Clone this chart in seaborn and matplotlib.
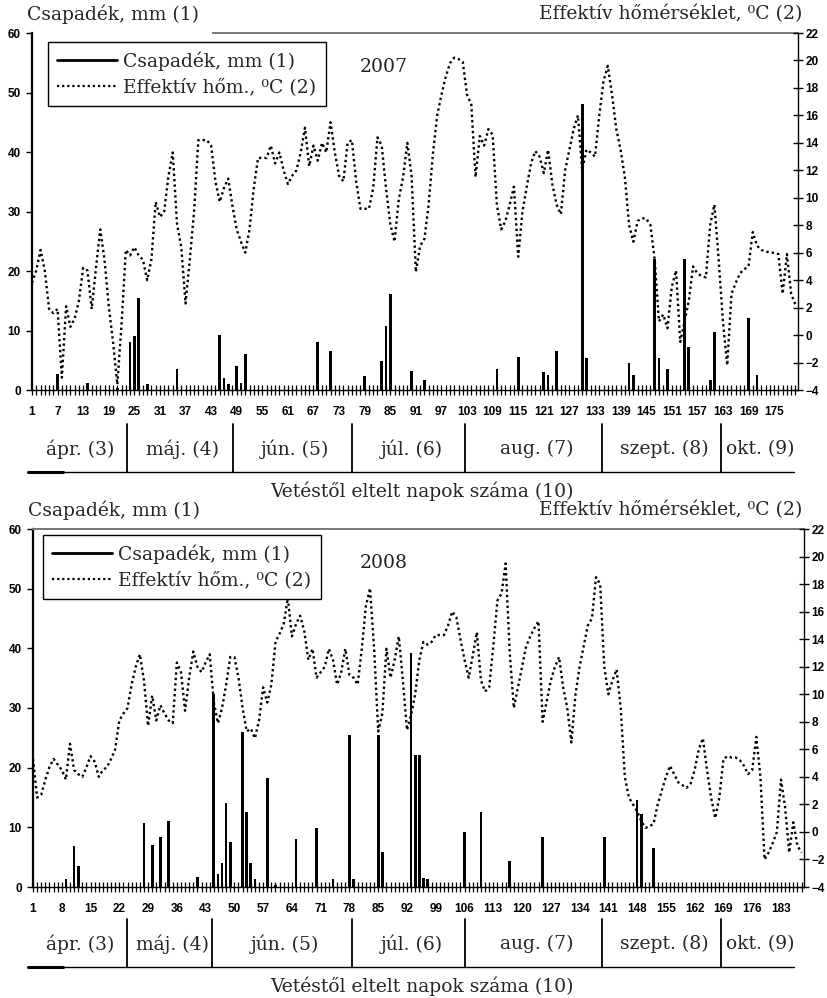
import matplotlib
matplotlib.use("Agg")
import matplotlib.pyplot as plt
import seaborn as sns
from matplotlib.lines import Line2D

sns.set_theme(style="white")
plt.rcParams['font.family'] = ['DejaVu Serif', 'DejaVu Sans']

# 2007 - effektiv homerseklet naponta (C)
temp_2007 = [
    3.8, 4.7, 6.2, 4.7, 1.9, 1.6, 1.9, -3.1, 2.1, 0.6,
    1.2, 2.5, 4.9, 4.7, 1.9, 4.9, 7.7, 5.5, 2.1, -0.5,
    -3.6, 0.8, 6.2, 5.8, 6.4, 5.8, 5.5, 4.0, 5.5, 9.7,
    8.6, 9.0, 11.6, 13.3, 8.1, 6.4, 2.3, 5.5, 9.0, 14.2,
    14.2, 14.2, 13.8, 11.2, 9.7, 10.7, 11.4, 9.4, 7.7, 6.8,
    6.0, 7.7, 10.7, 12.9, 12.9, 12.9, 13.8, 12.5, 13.3, 12.0,
    11.0, 11.6, 12.0, 13.3, 15.1, 12.3, 13.8, 12.7, 14.0, 13.3,
    15.5, 13.3, 11.6, 11.2, 14.0, 14.2, 11.2, 9.2, 9.2, 9.2,
    10.7, 14.4, 13.8, 10.7, 8.1, 6.8, 9.9, 11.5, 14.0, 11.6,
    4.6, 6.5, 7.0, 9.5, 13.2, 16.0, 17.5, 18.8, 19.8, 20.2,
    20.1, 19.9, 17.5, 16.8, 11.5, 14.5, 13.8, 15.0, 14.6, 9.5,
    7.7, 8.3, 9.5, 10.8, 5.7, 9.0, 10.8, 12.5, 13.4, 13.0,
    11.8, 13.5, 11.0, 9.5, 8.8, 12.0, 13.5, 15.0, 16.0, 12.0,
    13.5, 13.3, 13.0, 16.0, 18.5, 19.6, 17.5, 15.0, 13.5, 11.5,
    8.0, 6.8, 8.3, 8.5, 8.5, 8.0, 5.5, 1.0, 1.5, 0.5,
    3.5, 4.7, -0.5, 1.0, 2.5, 5.0, 4.5, 4.3, 4.2, 8.0,
    9.5, 5.5, 1.0, -2.2, 3.0, 3.8, 4.5, 4.8, 5.0, 7.5,
    6.5, 6.2, 6.1, 6.0, 6.0, 5.9, 3.0, 5.9, 3.0, 2.2,
]
rain_days_2007 = [7, 14, 21, 24, 25, 26, 28, 35, 45, 46, 47, 49, 50, 51, 68, 71,
                  79, 83, 84, 85, 90, 93, 110, 115, 121, 122, 124, 130, 131, 141,
                  142, 147, 148, 150, 154, 155, 160, 161, 169, 171]
rain_mm_2007 = [2.7, 1.1, 0.4, 8.0, 9.0, 15.5, 1.0, 3.5, 9.2, 2.0, 1.0, 4.1, 1.2, 6.1, 8.0, 6.5,
                2.4, 4.8, 10.8, 16.2, 3.2, 1.7, 3.6, 5.6, 3.0, 2.6, 6.5, 48.0, 5.3, 4.5,
                2.6, 22.1, 5.3, 3.5, 22.1, 7.3, 1.7, 9.7, 12.1, 2.6]

# 2008
temp_2008 = [
    5.3, 2.5, 2.7, 3.8, 4.7, 5.3, 4.9, 4.5, 3.8, 6.4,
    4.5, 4.2, 4.0, 4.7, 5.5, 5.1, 4.0, 4.5, 4.7, 5.3,
    6.0, 8.1, 8.6, 9.0, 10.7, 12.0, 12.9, 11.0, 7.7, 9.9,
    8.1, 9.2, 8.6, 8.1, 7.9, 12.3, 11.6, 8.8, 11.2, 13.1,
    12.0, 11.6, 12.3, 12.9, 9.4, 7.9, 9.0, 10.7, 12.7, 12.7,
    11.2, 9.0, 7.3, 7.5, 6.8, 8.1, 10.5, 9.4, 10.7, 13.8,
    14.4, 15.1, 17.0, 14.2, 15.1, 15.7, 14.6, 12.5, 13.3, 11.2,
    11.6, 12.0, 13.3, 12.5, 10.7, 11.6, 13.3, 11.4, 11.2, 10.7,
    13.3, 16.4, 17.7, 13.3, 7.3, 8.6, 13.3, 11.2, 12.5, 14.2,
    11.0, 7.4, 8.5, 10.0, 12.5, 13.8, 13.6, 13.8, 14.3, 14.3,
    14.3, 15.0, 16.0, 15.6, 14.0, 12.5, 11.2, 12.8, 14.5, 11.0,
    10.2, 10.5, 13.5, 16.8, 17.3, 19.5, 13.0, 9.0, 10.5, 12.0,
    13.5, 14.2, 14.8, 15.3, 8.0, 9.5, 11.0, 12.0, 12.7, 10.5,
    9.0, 6.5, 10.0, 12.0, 13.5, 15.0, 15.5, 18.5, 18.0, 12.0,
    10.0, 11.0, 11.8, 9.0, 4.0, 2.5, 2.0, 1.5, 0.8, 0.3,
    0.4, 0.6, 2.0, 3.0, 4.0, 4.8, 4.2, 3.6, 3.4, 3.2,
    3.5, 4.5, 6.0, 6.8, 4.5, 2.5, 1.0, 2.5, 5.3, 5.5,
    5.4, 5.4, 5.2, 4.8, 4.2, 4.5, 6.9, 4.0, -2.0, -1.5,
    -0.8, 0.0, 3.8, 1.8, -1.5, 0.7, -1.0, -1.5,
]
rain_days_2008 = [1, 9, 11, 12, 28, 30, 32, 34, 41, 45, 46, 47, 48, 49, 52, 53, 54, 55,
                  58, 60, 65, 70, 74, 78, 79, 85, 86, 93, 94, 95, 96, 97, 106, 110,
                  117, 125, 140, 148, 149, 152]
rain_mm_2008 = [1.5, 1.3, 6.8, 3.5, 10.7, 7.0, 8.3, 11.1, 1.7, 32.4, 2.2, 4.1, 14.1, 7.5, 26.0, 12.5, 4.0, 1.3,
                18.3, 0.4, 8.1, 9.9, 1.3, 25.4, 1.3, 25.4, 5.8, 39.2, 22.1, 22.2, 1.5, 1.3, 9.2, 12.6,
                4.4, 8.3, 8.3, 14.6, 12.2, 6.5]

months = ["ápr. (3)", "máj. (4)", "jún. (5)", "júl. (6)", "aug. (7)", "szept. (8)", "okt. (9)"]

W, H = 828, 998
fig = plt.figure(figsize=(W / 100, H / 100), dpi=100)

# overlay in pixel coordinates for the month table and titles
ov = fig.add_axes([0, 0, 1, 1], zorder=0)
ov.set_xlim(0, W)
ov.set_ylim(H, 0)
ov.axis("off")

TXT = 13.5
tickfont = dict(family="Liberation Sans", weight="bold", size=8.5)


def panel(box, temps, rdays, rmm, step, year, leg_anchor, top_from, xmax, band_y, dividers):
    left, right, top, bottom = box
    ax = fig.add_axes([left / W, 1 - bottom / H, (right - left) / W, (bottom - top) / H], zorder=2)
    ax.set_facecolor("none")
    days = list(range(1, len(temps) + 1))

    sns.barplot(x=rdays, y=rmm, native_scale=True, color="black", saturation=1,
                width=0.65, errorbar=None, linewidth=0, ax=ax)
    ax.set_xlim(1, xmax)
    ax.set_ylim(0, 60)
    ax.set_yticks(range(0, 61, 10))
    ax.set_xticks(days)
    ax.set_xticklabels([str(d) if (d - 1) % step == 0 else "" for d in days])
    ax.set_xlabel("")
    ax.set_ylabel("")
    ax.tick_params(axis="x", direction="inout", length=7, width=0.9, pad=8,
                   colors="black", bottom=True)
    ax.tick_params(axis="y", direction="out", length=4, width=1, pad=4, colors="black", left=True)
    for lab in ax.get_xticklabels() + ax.get_yticklabels():
        lab.set_fontproperties(tickfont)
    ax.spines["left"].set_linewidth(1.6)
    ax.spines["left"].set_color("black")
    ax.spines["bottom"].set_color("black")
    ax.spines["bottom"].set_linewidth(1)
    ax.spines["right"].set_visible(False)
    ax.spines["top"].set_color("#777777")
    ax.spines["top"].set_linewidth(1.4)
    ax.spines["top"].set_bounds(top_from, xmax)

    ax2 = ax.twinx()
    sns.lineplot(x=days, y=temps, ax=ax2, color="black", linewidth=1.7,
                 linestyle=(0, (1, 1.3)))
    ax2.set_ylim(-4, 22)
    ax2.set_yticks(range(-4, 23, 2))
    ax2.set_ylabel("")
    ax2.tick_params(axis="y", direction="inout", length=7, width=1, pad=2, colors="black", right=True)
    for lab in ax2.get_yticklabels():
        lab.set_fontproperties(tickfont)
    for s in ["left", "top", "bottom"]:
        ax2.spines[s].set_visible(False)
    ax2.spines["right"].set_color("black")
    ax2.spines["right"].set_linewidth(1)

    handles = [Line2D([], [], color="black", lw=2),
               Line2D([], [], color="black", lw=1.6, ls=(0, (1, 1.3)))]
    leg = ax2.legend(handles, ["Csapadék, mm (1)", "Effektív hőm., ⁰C (2)"],
                     loc="upper left", bbox_to_anchor=leg_anchor, borderaxespad=0,
                     fontsize=TXT, frameon=True, fancybox=False, framealpha=1,
                     edgecolor="black", handlelength=3.2, handletextpad=0.3,
                     labelspacing=0.4, borderpad=0.5)
    leg.get_frame().set_linewidth(1)

    ax2.text(384, top + 34, year, transform=ov.transData, fontsize=13.5,
             ha="center", va="center", color="#222222", zorder=5)
    ov.text(left - 5, top - 19, "Csapadék, mm (1)", fontsize=TXT, ha="left", va="center")
    ov.text(802, top - 19, "Effektív hőmérséklet, ⁰C (2)", fontsize=TXT, ha="right", va="center")

    # month table under the axis
    y0, y1 = band_y
    for x in dividers:
        ov.plot([x, x], [y0, y1], color="black", lw=1.3)
    ov.plot([28, 794], [y1, y1], color="black", lw=1)
    ov.plot([28, 63], [y1, y1], color="black", lw=2.2)
    edges = [28] + dividers + [794]
    for i, name in enumerate(months):
        ov.text((edges[i] + edges[i + 1]) / 2 + 3, (y0 + y1) / 2 + 1, name,
                fontsize=TXT, ha="center", va="center")
    ov.text(422, y1 + 19, "Vetéstől eltelt napok száma (10)", fontsize=TXT,
            ha="center", va="center")


panel((32, 798, 33, 390), temp_2007, rain_days_2007, rain_mm_2007, 6, "2007",
      (0.021, 0.975), 43.4, 180.6, (424, 472), [127, 233, 352, 465, 602, 721])
panel((33, 804, 529, 887), temp_2008, rain_days_2008, rain_mm_2008, 7, "2008",
      (0.013, 0.983), 1, 188.6, (919, 967), [127, 212, 352, 465, 602, 721])

fig.savefig("out.png", dpi=100)
